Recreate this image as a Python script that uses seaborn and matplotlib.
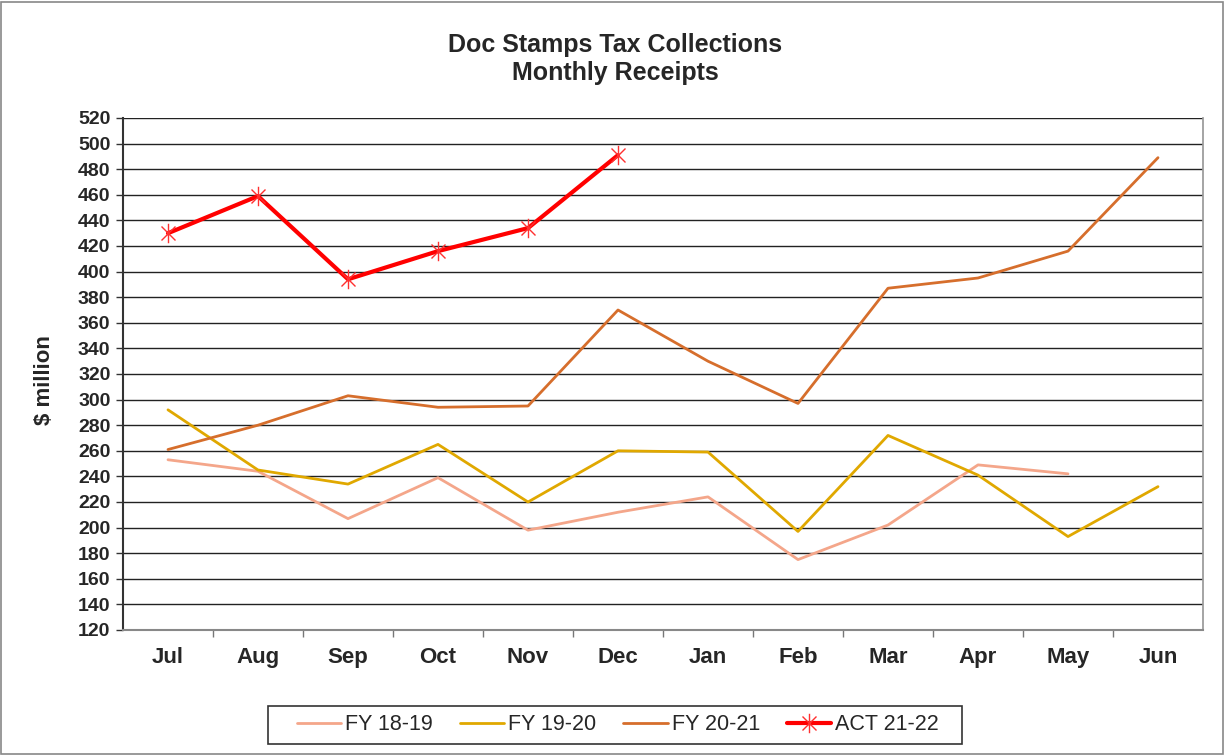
import numpy as np
import pandas as pd
import matplotlib
matplotlib.use("Agg")
import matplotlib.pyplot as plt
import seaborn as sns
from matplotlib.patches import Rectangle
from matplotlib.path import Path
from matplotlib.ticker import FixedLocator, MultipleLocator

months = ["Jul", "Aug", "Sep", "Oct", "Nov", "Dec", "Jan", "Feb", "Mar", "Apr", "May", "Jun"]
fy1819 = [253, 244, 207, 239, 198, 212, 224, 175, 202, 249, 242]
fy1920 = [292, 245, 234, 265, 220, 260, 259, 197, 272, 241, 193, 232]
fy2021 = [261, 280, 303, 294, 295, 370, 330, 297, 387, 395, 416, 489]
act2122 = [430, 459, 394, 416, 434, 491]

series_names = ["FY 18-19", "FY 19-20", "FY 20-21", "ACT 21-22"]
series_vals = [fy1819, fy1920, fy2021, act2122]
colors = ["#F4A68A", "#E0A800", "#D66E2C", "#FF0000"]

# Excel-style star marker: vertical bar plus an X
star = Path([(0, -1), (0, 1), (-0.72, -0.72), (0.72, 0.72), (-0.72, 0.72), (0.72, -0.72)],
            [Path.MOVETO, Path.LINETO, Path.MOVETO, Path.LINETO, Path.MOVETO, Path.LINETO])

sns.set_theme(style="white")
plt.rcParams["font.family"] = ["Liberation Sans", "DejaVu Sans"]

fig = plt.figure(figsize=(12.25, 7.55), dpi=100)
ax = fig.add_axes([123/1225, 1 - 630/755, (1203-123)/1225, (630-118)/755])

for name, vals, col in zip(series_names, series_vals, colors):
    df = pd.DataFrame({"x": np.arange(len(vals)), "y": vals})
    if name.startswith("ACT"):
        sns.lineplot(data=df, x="x", y="y", ax=ax, color=col, lw=3.0, label=name,
                     marker=star, markersize=14, markeredgewidth=1.0,
                     markeredgecolor="#FF3030", markerfacecolor="none", zorder=5)
    else:
        sns.lineplot(data=df, x="x", y="y", ax=ax, color=col, lw=2.0, label=name, zorder=4)

ax.set_xlim(-0.5, 11.5)
ax.set_ylim(120, 520)
ax.yaxis.set_major_locator(MultipleLocator(20))
ax.set_xticks(np.arange(12))
ax.set_xticklabels(months, fontsize=16, fontweight="bold")
ax.xaxis.set_minor_locator(FixedLocator(np.arange(0.5, 11.5, 1)))
ax.tick_params(axis="x", which="major", length=0, pad=12)
ax.tick_params(axis="x", which="minor", length=5, width=1, color="#777777", direction="out", bottom=True)
ax.tick_params(axis="y", which="major", length=5, width=1, color="#333333", direction="out", left=True,
               labelsize=14, pad=4)
for lbl in ax.get_yticklabels():
    lbl.set_fontweight("bold")

ax.grid(axis="y", color="#222222", lw=1.0, zorder=0)
ax.grid(axis="x", visible=False)
ax.set_xlabel("")
ax.set_ylabel("$ million", fontsize=16, fontweight="bold")
ax.yaxis.set_label_coords(-0.063, 0.488)

ax.spines["top"].set_visible(False)
ax.spines["right"].set_color("#999999")
ax.spines["left"].set_color("#333333")
ax.spines["left"].set_linewidth(1.5)
ax.spines["bottom"].set_color("#888888")
ax.spines["bottom"].set_linewidth(1.5)

fig.text(615/1225, 1 - 45/755, "Doc Stamps Tax Collections", ha="center", va="center",
         fontsize=18, fontweight="bold")
fig.text(615/1225, 1 - 73/755, "Monthly Receipts", ha="center", va="center",
         fontsize=18, fontweight="bold")

ax.get_legend().remove()
handles, labels = ax.get_legend_handles_labels()
leg = fig.legend(handles, labels, loc="center", bbox_to_anchor=(618/1225, 1 - 725/755), ncol=4,
                 fontsize=15.5, frameon=False, handlelength=2.05, columnspacing=1.25,
                 borderpad=0.2, handletextpad=0.2)

fig.patches.append(Rectangle((268/1225, 1 - 744/755), (962-268)/1225, 38/755, transform=fig.transFigure,
                             fill=False, edgecolor="#333333", lw=1.2))
fig.patches.append(Rectangle((0.001, 0.001), 0.997, 0.997, transform=fig.transFigure,
                             fill=False, edgecolor="#888888", lw=1.2))

fig.savefig("out.png", dpi=100)
